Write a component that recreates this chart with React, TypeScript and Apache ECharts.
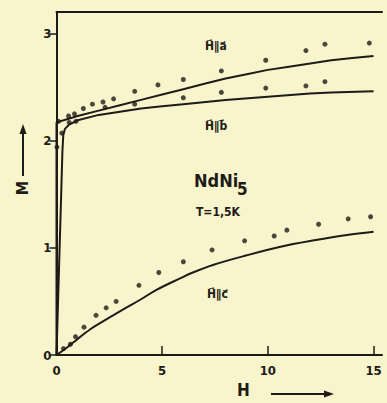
import React, { useEffect, useRef } from "react";
import * as echarts from "echarts";

// Fitted curves (H, M)
const curveA: number[][] = [
  [0, 0], [0, 2.17], [0.5, 2.2], [1, 2.23], [2, 2.28], [3, 2.33], [4, 2.38], [5, 2.43],
  [6, 2.48], [7, 2.53], [8, 2.58], [9, 2.62], [10, 2.66], [11, 2.69], [12, 2.72],
  [13, 2.75], [14, 2.77], [15, 2.79],
];
const curveB: number[][] = [
  [0, 0], [0.28, 1.9], [0.32, 2.05], [0.4, 2.11], [0.6, 2.15], [1, 2.19], [2, 2.24],
  [3, 2.27], [4, 2.3], [5, 2.32], [6, 2.34], [8, 2.38], [10, 2.41], [12, 2.44],
  [13, 2.45], [15, 2.46],
];
const curveC: number[][] = [
  [0, 0], [0.5, 0.07], [1, 0.15], [1.6, 0.24], [2, 0.29], [3.2, 0.43], [4, 0.52],
  [4.75, 0.61], [5.9, 0.72], [6.33, 0.76], [7.4, 0.84], [9, 0.93], [10.6, 1.01],
  [12.2, 1.07], [13.75, 1.12], [15, 1.15],
];
// Measured points
const dotsA: number[][] = [
  [0.1, 2.18], [0.57, 2.23], [0.85, 2.25], [1.27, 2.3], [1.7, 2.34], [2.2, 2.36],
  [2.7, 2.39], [3.7, 2.46], [4.8, 2.52], [6.0, 2.57], [7.8, 2.65], [9.9, 2.75],
  [11.8, 2.84], [12.7, 2.9], [14.8, 2.91],
];
const dotsB: number[][] = [
  [0.02, 1.94], [0.25, 2.07], [0.6, 2.17], [0.92, 2.18], [2.3, 2.31], [3.7, 2.34],
  [6.0, 2.4], [7.8, 2.45], [9.9, 2.49], [11.8, 2.51], [12.7, 2.55],
];
const dotsC: number[][] = [
  [0.33, 0.06], [0.66, 0.1], [0.9, 0.17], [1.3, 0.26], [1.87, 0.37], [2.35, 0.44],
  [2.82, 0.5], [3.9, 0.65], [4.84, 0.77], [6.0, 0.87], [7.36, 0.98], [8.9, 1.065],
  [10.3, 1.11], [10.9, 1.165], [12.4, 1.22], [13.8, 1.27], [14.86, 1.29],
];
const xTicks = [0, 5, 10, 15];
const yTicks = [0, 1, 2, 3];

const INK = "#1d1b17";
const BG = "#f8f4cc";
const FONT = "'DejaVu Sans Condensed', 'DejaVu Sans', sans-serif";

export default function App() {
  const ref = useRef<HTMLDivElement>(null);
  useEffect(() => {
    document.body.style.margin = "0";
    const chart = echarts.init(ref.current!, null, { renderer: "svg" });
    const lineSeries = (data: number[][], smooth: number | boolean) => ({
      type: "line",
      data,
      smooth,
      showSymbol: false,
      lineStyle: { color: INK, width: 2 },
      z: 3,
    });
    const dotSeries = (data: number[][]) => ({
      type: "scatter",
      data,
      symbolSize: 5,
      itemStyle: { color: INK },
      z: 4,
    });
    chart.setOption({
      animation: false,
      backgroundColor: BG,
      grid: { left: 56.5, right: 5, top: 12, bottom: 48 },
      xAxis: [
        {
          type: "value",
          min: 0,
          max: 15.4,
          interval: 5,
          splitLine: { show: false },
          axisLine: { lineStyle: { color: INK, width: 2 } },
          axisTick: { inside: true, length: 9, customValues: xTicks, lineStyle: { color: INK, width: 1.5 } },
          axisLabel: { customValues: xTicks, color: INK, fontSize: 13, fontWeight: "bold", fontFamily: FONT, margin: 9 },
        },
        {
          type: "value",
          position: "top",
          min: 0,
          max: 15.4,
          splitLine: { show: false },
          axisLine: { show: true, lineStyle: { color: INK, width: 2 } },
          axisTick: { show: false },
          axisLabel: { show: false },
        },
      ],
      yAxis: {
        type: "value",
        min: 0,
        max: 3.2,
        interval: 1,
        splitLine: { show: false },
        axisLine: { show: true, lineStyle: { color: INK, width: 2 } },
        axisTick: { length: 7, customValues: yTicks, lineStyle: { color: INK, width: 1.5 } },
        axisLabel: { customValues: yTicks, color: INK, fontSize: 13, fontWeight: "bold", fontFamily: FONT, margin: 5 },
      },
      series: [
        lineSeries(curveA, false),
        lineSeries(curveB, false),
        lineSeries(curveC, 0.35),
        dotSeries(dotsA),
        dotSeries(dotsB),
        dotSeries(dotsC),
      ],
      graphic: [
        { type: "text", left: 205, top: 40, style: { text: "H\u20D7\u2225a\u20D7", fill: INK, font: `bold 12px ${FONT}` } },
        { type: "text", left: 205, top: 120, style: { text: "H\u20D7\u2225b\u20D7", fill: INK, font: `bold 12px ${FONT}` } },
        { type: "text", left: 207, top: 288, style: { text: "H\u20D7\u2225c\u20D7", fill: INK, font: `bold 12px ${FONT}` } },
        { type: "text", left: 194, top: 171, style: { text: "NdNi", fill: INK, font: `bold 18px ${FONT}` } },
        { type: "text", left: 237, top: 180, style: { text: "5", fill: INK, font: `bold 17px ${FONT}` } },
        { type: "text", left: 196, top: 206, style: { text: "T=1,5K", fill: INK, font: `bold 12px ${FONT}` } },
        {
          type: "text",
          x: 22,
          y: 188,
          rotation: Math.PI / 2,
          style: { text: "M", fill: INK, font: `bold 16px ${FONT}`, align: "center", verticalAlign: "middle" },
        },
        { type: "line", shape: { x1: 23, y1: 176, x2: 23, y2: 132 }, style: { stroke: INK, lineWidth: 2 } },
        { type: "polygon", shape: { points: [[19.5, 134], [26.5, 134], [23, 124]] }, style: { fill: INK } },
        {
          type: "text",
          left: 237,
          top: 381,
          style: { text: "H", fill: INK, font: `bold 17px ${FONT}` },
        },
        { type: "line", shape: { x1: 271, y1: 394, x2: 326, y2: 394 }, style: { stroke: INK, lineWidth: 2 } },
        { type: "polygon", shape: { points: [[324, 390.5], [324, 397.5], [334, 394]] }, style: { fill: INK } },
      ],
    });
    return () => chart.dispose();
  }, []);
  return <div ref={ref} style={{ width: 387, height: 403 }} />;
}
